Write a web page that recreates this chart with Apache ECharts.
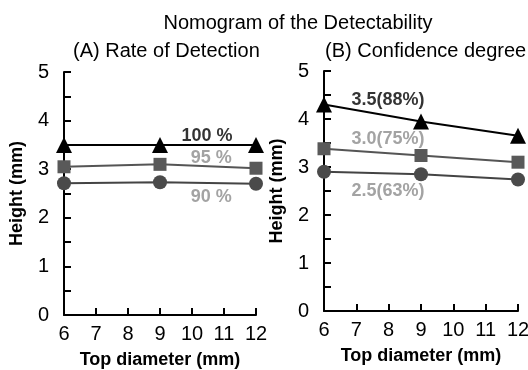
<!DOCTYPE html>
<html><head><meta charset="utf-8">
<script src="https://cdn.jsdelivr.net/npm/echarts@6/dist/echarts.min.js"></script>
<style>html,body{margin:0;padding:0;background:#fff}#c{width:528px;height:370px}</style>
</head><body><div id="c"></div>
<script>
const xTicks = [6, 9, 12];
const rate100 = [3.5, 3.5, 3.5];
const rate95 = [3.05, 3.1, 3.02];
const rate90 = [2.71, 2.73, 2.7];
const conf35 = [4.3, 3.95, 3.65];
const conf30 = [3.38, 3.24, 3.1];
const conf25 = [2.9, 2.85, 2.74];
const labelsA = ['100 %', '95 %', '90 %'];
const labelsB = ['3.5(88%)', '3.0(75%)', '2.5(63%)'];
const labelPosA = [[10.47, 3.68], [10.6, 3.22], [10.6, 2.43]];
const labelPosB = [[7.98, 4.4], [7.98, 3.58], [7.98, 2.49]];

const FONT = 'Liberation Sans, Arial, sans-serif';
const chart = echarts.init(document.getElementById('c'), null, {renderer: 'canvas'});

function xAxis(gi) {
  return {
    type: 'value', gridIndex: gi, min: 6, max: 12, interval: 1,
    name: 'Top diameter (mm)', nameLocation: 'middle', nameGap: 36,
    nameTextStyle: {fontFamily: FONT, fontSize: 18, fontWeight: 'bold', color: '#000'},
    axisLine: {show: true, lineStyle: {color: '#000', width: 2}},
    axisTick: {show: true, inside: true, length: 7, lineStyle: {color: '#000', width: 2}},
    axisLabel: {fontFamily: FONT, fontSize: 20, color: '#000', margin: 9},
    splitLine: {show: false}
  };
}
function yAxis(gi) {
  return {
    type: 'value', gridIndex: gi, min: 0, max: 5, interval: 1,
    name: 'Height (mm)', nameLocation: 'middle', nameGap: 38, nameRotate: 90,
    nameTextStyle: {fontFamily: FONT, fontSize: 18, fontWeight: 'bold', color: '#000'},
    axisLine: {show: true, lineStyle: {color: '#000', width: 2}},
    axisTick: {show: true, inside: true, length: 7, lineStyle: {color: '#000', width: 2}},
    minorTick: {show: true, splitNumber: 2, length: 7, lineStyle: {color: '#000', width: 2}},
    axisLabel: {fontFamily: FONT, fontSize: 20, color: '#000', margin: 15},
    splitLine: {show: false}
  };
}
function lineSeries(gi, data, color, lineColor, symbol, size) {
  return {
    type: 'line', xAxisIndex: gi, yAxisIndex: gi,
    data: xTicks.map((x, i) => [x, data[i]]),
    symbol: symbol, symbolSize: size, showAllSymbol: true,
    itemStyle: {color: color},
    lineStyle: {color: lineColor, width: 2},
    animation: false, z: 3
  };
}
function labelSeries(gi, texts, pos, colors) {
  return {
    type: 'scatter', xAxisIndex: gi, yAxisIndex: gi,
    symbolSize: 0, silent: true, animation: false,
    data: pos.map((p, i) => ({
      value: p,
      label: {show: true, position: 'inside', formatter: texts[i], color: colors[i],
        fontFamily: FONT, fontSize: 18, fontWeight: 'bold'}
    }))
  };
}

const labelColors = ['#000', '#8c8c8c', '#8c8c8c'];

chart.setOption({
  backgroundColor: '#fff',
  title: [
    {text: 'Nomogram of the Detectability', left: 293, top: 8, textAlign: 'center',
      textStyle: {fontFamily: FONT, fontSize: 20, fontWeight: 'normal', color: '#000'}},
    {text: '(A) Rate of Detection', left: 68, top: 36,
      textStyle: {fontFamily: FONT, fontSize: 20, fontWeight: 'normal', color: '#000'}},
    {text: '(B) Confidence degree', left: 320, top: 36,
      textStyle: {fontFamily: FONT, fontSize: 20, fontWeight: 'normal', color: '#000'}}
  ],
  grid: [
    {left: 64, top: 72, width: 192, height: 243, outerBoundsMode: 'none', containLabel: false},
    {left: 324, top: 71, width: 194, height: 240, outerBoundsMode: 'none', containLabel: false}
  ],
  xAxis: [xAxis(0), xAxis(1)],
  yAxis: [yAxis(0), yAxis(1)],
  series: [
    lineSeries(0, rate100, '#000', '#000', 'triangle', 16),
    lineSeries(0, rate95, '#595959', '#555', 'rect', 13),
    lineSeries(0, rate90, '#4a4a4a', '#444', 'circle', 14),
    labelSeries(0, labelsA, labelPosA, labelColors),
    lineSeries(1, conf35, '#000', '#000', 'triangle', 16),
    lineSeries(1, conf30, '#595959', '#555', 'rect', 13),
    lineSeries(1, conf25, '#4a4a4a', '#444', 'circle', 14),
    labelSeries(1, labelsB, labelPosB, labelColors)
  ]
});
</script>
</body></html>
